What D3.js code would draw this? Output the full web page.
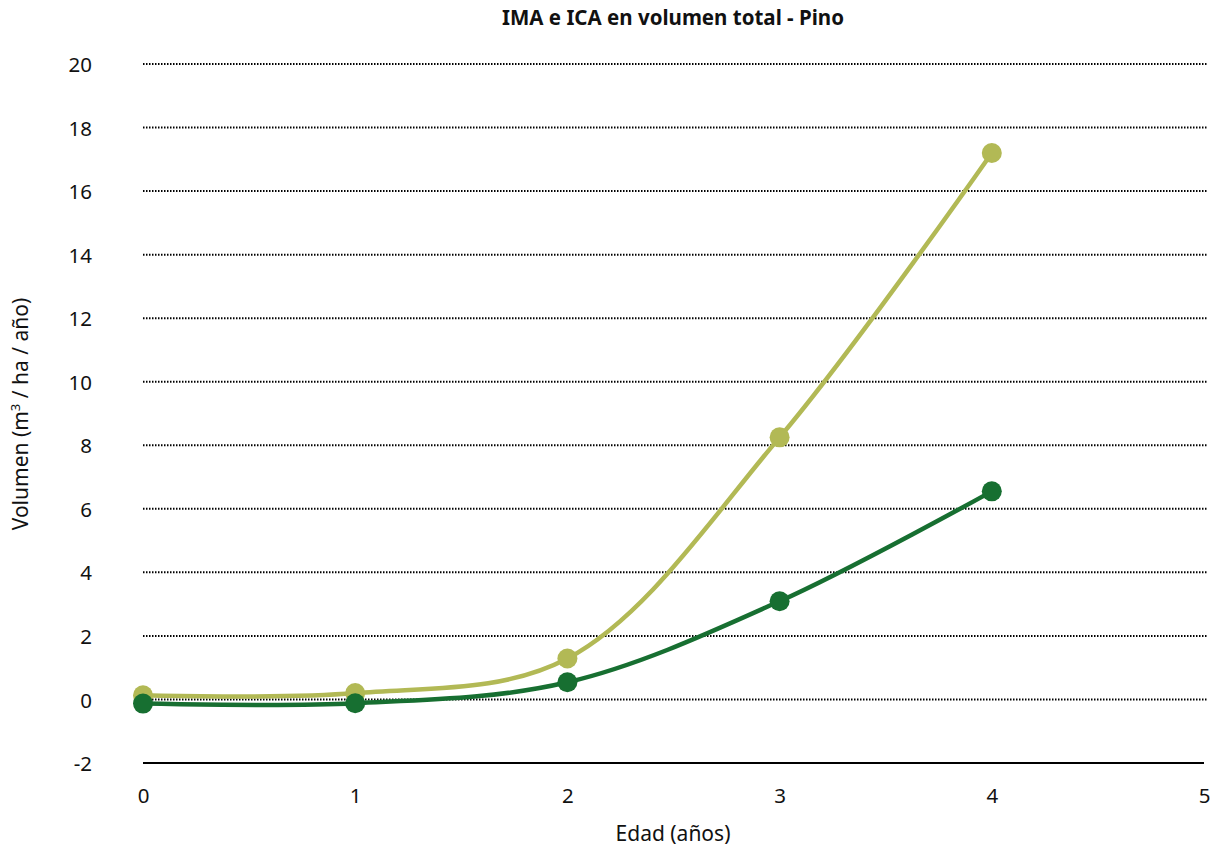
<!DOCTYPE html>
<html>
<head>
<meta charset="utf-8">
<script src="https://cdn.jsdelivr.net/npm/d3@7"></script>
<style>
  body { margin: 0; background: #fff; }
  svg { display: block; font-family: "Noto Sans", "Open Sans", sans-serif; }
</style>
</head>
<body>
<svg id="chart" width="1227" height="851"></svg>
<script>
// Edad (años) y volúmenes medios/corrientes
const edades = [0, 1, 2, 3, 4];
const ima = [0.13, 0.2, 1.29, 8.25, 17.2];
const ica = [-0.13, -0.12, 0.54, 3.09, 6.55];
const yTicks = [-2, 0, 2, 4, 6, 8, 10, 12, 14, 16, 18, 20];
const xTicks = [0, 1, 2, 3, 4, 5];

const colorIMA = "#b2b955";
const colorICA = "#176f31";

const svg = d3.select("#chart");
const x = d3.scaleLinear().domain([0, 5]).range([143, 1204]);
const y = d3.scaleLinear().domain([-2, 20]).range([763, 64]);
const fmt = d => String(d);

// Líneas de cuadrícula punteadas
svg.append("g").selectAll("line")
  .data(yTicks.filter(d => d > -2))
  .join("line")
  .attr("x1", 143).attr("x2", 1207)
  .attr("y1", d => y(d)).attr("y2", d => y(d))
  .attr("stroke", "#000")
  .attr("stroke-width", 2)
  .attr("stroke-dasharray", "1.5,1.5");

// Eje horizontal en -2
svg.append("line")
  .attr("x1", 143).attr("x2", 1204)
  .attr("y1", y(-2)).attr("y2", y(-2))
  .attr("stroke", "#000").attr("stroke-width", 2);

// Etiquetas del eje Y
const yAxis = d3.axisLeft(y).tickValues(yTicks).tickFormat(fmt).tickSize(0).tickPadding(0);
const gy = svg.append("g").attr("transform", "translate(92,1)").call(yAxis);
gy.select(".domain").remove();
gy.selectAll("text").attr("font-size", 20.5).attr("fill", "#111")
  .attr("font-family", "'Noto Sans', sans-serif");

// Etiquetas del eje X
const xAxis = d3.axisBottom(x).tickValues(xTicks).tickFormat(fmt).tickSize(0).tickPadding(0);
const gx = svg.append("g").attr("transform", "translate(0,788)").call(xAxis);
gx.select(".domain").remove();
gx.selectAll("text").attr("font-size", 20.5).attr("fill", "#111")
  .attr("font-family", "'Noto Sans', sans-serif");

// Series
const line = d3.line()
  .x((d, i) => x(edades[i]))
  .y(d => y(d))
  .curve(d3.curveCatmullRom.alpha(0.5));

function series(values, color) {
  svg.append("path")
    .attr("d", line(values))
    .attr("fill", "none")
    .attr("stroke", color)
    .attr("stroke-width", 4.5);
  svg.append("g").selectAll("circle")
    .data(values)
    .join("circle")
    .attr("cx", (d, i) => x(edades[i]))
    .attr("cy", d => y(d))
    .attr("r", 10)
    .attr("fill", color);
}
series(ima, colorIMA);
series(ica, colorICA);

// Título
svg.append("text")
  .attr("x", 673).attr("y", 25)
  .attr("text-anchor", "middle")
  .attr("font-size", 20.5).attr("font-weight", "bold").attr("fill", "#111")
  .text("IMA e ICA en volumen total - Pino");

// Título eje X
svg.append("text")
  .attr("x", 673).attr("y", 841)
  .attr("text-anchor", "middle")
  .attr("font-size", 21).attr("fill", "#111")
  .text("Edad (años)");

// Título eje Y
const yl = svg.append("text")
  .attr("transform", "translate(28,414) rotate(-90)")
  .attr("text-anchor", "middle")
  .attr("font-size", 21).attr("fill", "#111");
yl.append("tspan").text("Volumen (m");
yl.append("tspan").attr("font-size", 13).attr("dy", -8).text("3");
yl.append("tspan").attr("dy", 8).text(" / ha / año)");
</script>
</body>
</html>
